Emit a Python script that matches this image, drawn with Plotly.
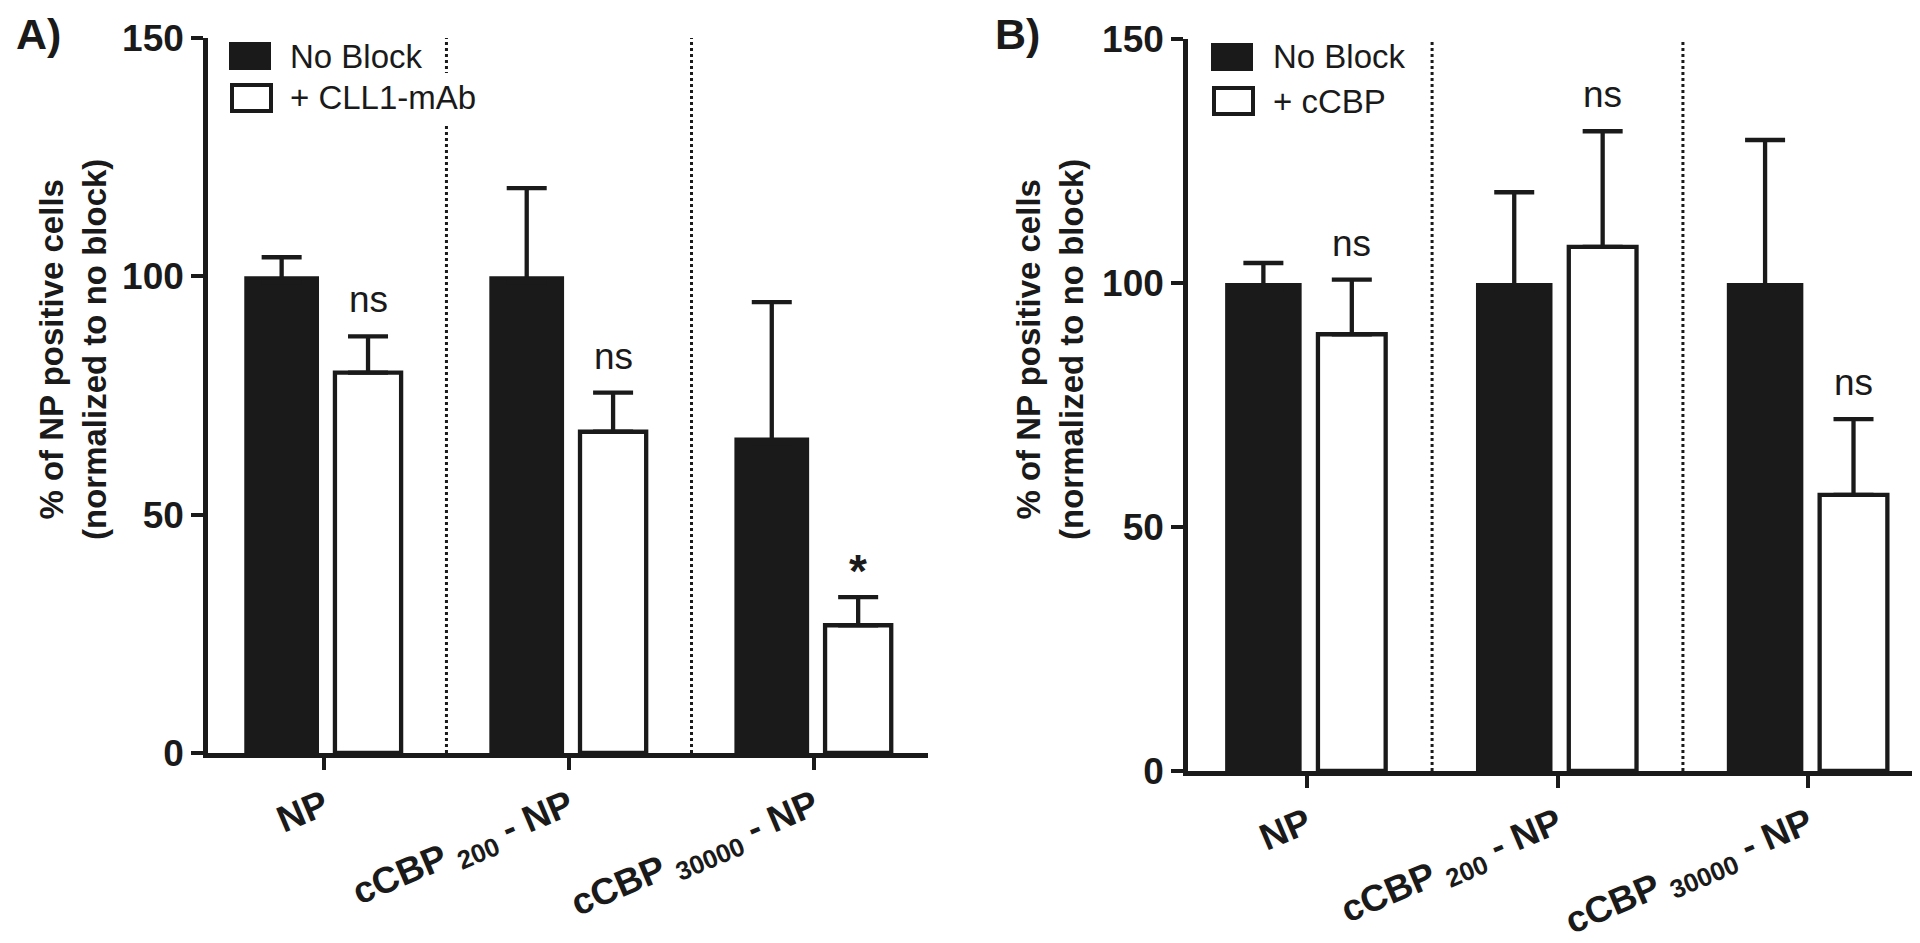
import plotly.graph_objects as go

# ---------------- data ----------------
categories = ["NP", "cCBP200 - NP", "cCBP30000 - NP"]
tick_labels = ["NP", "cCBP <sub>200</sub> - NP", "cCBP <sub>30000</sub> - NP"]

# Panel A
nb_A = [100.0, 100.0, 66.2]
nb_A_err = [4.0, 18.5, 28.4]
mab_A = [79.8, 67.4, 26.8]
mab_A_err = [7.6, 8.2, 5.9]
sig_A = ["ns", "ns", "*"]

# Panel B
nb_B = [100.0, 100.0, 100.0]
nb_B_err = [4.1, 18.6, 29.3]
cbp_B = [89.5, 107.4, 56.6]
cbp_B_err = [11.2, 23.7, 15.5]
sig_B = ["ns", "ns", "ns"]

legend_A = ["No Block", "+ CLL1-mAb"]
legend_B = ["No Block", "+ cCBP"]
y_ticks = [0, 50, 100, 150]
y_title = "% of NP positive cells<br>(normalized to no block)"

# ---------------- style ----------------
PAGE_W, PAGE_H = 1920, 943
OX, OY = 0, 8  # observed offset of the plot div in the page
W, H = PAGE_W - OX, PAGE_H - OY
FONT = "Liberation Sans, Arial, Helvetica, sans-serif"
BLACK = "#1a1a1a"
CAP_SINK = 1.2  # tucks the lower error-bar cap inside the black bar


def px(x):
    return min(max((x - OX) / W, 0), 1)


def py(y):
    return min(max(1 - (y - OY) / H, 0), 1)


xpos = list(range(len(categories)))
XR_A = [-0.473, 2.465]
XR_B = [-0.473, 2.465]

fig = go.Figure()

BW_BLACK, OFF_BLACK = 0.305, -0.325
BW_WHITE, OFF_WHITE = 0.27, 0.045


def add_panel(xa, ya, nb, nb_err, tr, tr_err, names):
    fig.add_trace(go.Bar(
        x=xpos, y=nb, name=names[0], xaxis=xa, yaxis=ya,
        width=BW_BLACK, offset=OFF_BLACK,
        marker=dict(color=BLACK, line=dict(width=0)),
        error_y=dict(type="data", array=nb_err, arrayminus=[CAP_SINK] * len(nb),
                     symmetric=False, color=BLACK, thickness=4.3, width=20),
        showlegend=False,
    ))
    fig.add_trace(go.Bar(
        x=xpos, y=tr, name=names[1], xaxis=xa, yaxis=ya,
        width=BW_WHITE, offset=OFF_WHITE,
        marker=dict(color="white", line=dict(width=4.3, color=BLACK)),
        error_y=dict(type="data", array=tr_err, arrayminus=[0] * len(tr),
                     symmetric=False, color=BLACK, thickness=4.3, width=20),
        showlegend=False,
    ))


add_panel("x", "y", nb_A, nb_A_err, mab_A, mab_A_err, legend_A)
add_panel("x2", "y2", nb_B, nb_B_err, cbp_B, cbp_B_err, legend_B)

xaxis_common = dict(
    tickmode="array", tickvals=xpos, ticktext=tick_labels,
    tickangle=-23, ticks="outside", ticklen=12, tickwidth=4, tickcolor=BLACK,
    showline=True, linewidth=5, linecolor=BLACK, showgrid=False, zeroline=False,
    tickfont=dict(family=FONT, size=37, color=BLACK, weight="bold"),
    fixedrange=True, automargin=False,
)
yaxis_common = dict(
    range=[0, 150], tickmode="array", tickvals=y_ticks,
    ticks="outside", ticklen=12, tickwidth=4, tickcolor=BLACK,
    showline=True, linewidth=4.5, linecolor=BLACK, showgrid=False, zeroline=False,
    tickfont=dict(family=FONT, size=37, color=BLACK, weight="bold"),
    fixedrange=True, automargin=False,
)

fig.update_layout(
    width=W, height=H,
    margin=dict(l=0, r=0, t=0, b=0, pad=0, autoexpand=False),
    paper_bgcolor="white", plot_bgcolor="white",
    barmode="overlay",
    xaxis=dict(domain=[px(200), px(920)], anchor="y", range=XR_A, **xaxis_common),
    yaxis=dict(domain=[py(753), py(38)], anchor="x", **yaxis_common),
    xaxis2=dict(domain=[px(1180), px(1917)], anchor="y2", range=XR_B, **xaxis_common),
    yaxis2=dict(domain=[py(771), py(39)], anchor="x2", **yaxis_common),
    showlegend=False,
)

shapes = []
annotations = []

# dotted separators between groups
for xa, ya in (("x", "y"), ("x2", "y2")):
    for i in range(len(categories) - 1):
        shapes.append(dict(type="line", xref=xa, yref=ya, x0=i + 0.5, x1=i + 0.5,
                           y0=0, y1=150, line=dict(color=BLACK, width=3, dash="dot"),
                           layer="above"))

# legend A background (hides part of the separator)
shapes.append(dict(type="rect", xref="paper", yref="paper",
                   x0=px(213), x1=px(482), y0=py(125), y1=py(73),
                   fillcolor="white", line=dict(width=0), layer="above"))


def legend(x_sq, y1, y2, labels, x_text):
    shapes.append(dict(type="rect", xref="paper", yref="paper",
                       x0=px(x_sq), x1=px(x_sq + 42), y0=py(y1 + 14), y1=py(y1 - 14),
                       fillcolor=BLACK, line=dict(width=0), layer="above"))
    shapes.append(dict(type="rect", xref="paper", yref="paper",
                       x0=px(x_sq + 3), x1=px(x_sq + 42), y0=py(y2 + 13), y1=py(y2 - 13),
                       fillcolor="white", line=dict(width=4, color=BLACK), layer="above"))
    for lab, yy in zip(labels, (y1, y2)):
        annotations.append(dict(text=lab, xref="paper", yref="paper", x=px(x_text), y=py(yy),
                                xanchor="left", yanchor="middle", showarrow=False,
                                font=dict(family=FONT, size=33, color=BLACK)))


legend(221, 56, 98, legend_A, 280)
legend(1203, 57, 101, legend_B, 1263)

# significance labels
center_white = OFF_WHITE + BW_WHITE / 2
for xa, ya, vals, errs, sigs in (("x", "y", mab_A, mab_A_err, sig_A),
                                 ("x2", "y2", cbp_B, cbp_B_err, sig_B)):
    for i, (v, e, s) in enumerate(zip(vals, errs, sigs)):
        star = s == "*"
        annotations.append(dict(
            text=s, xref=xa, yref=ya, x=xpos[i] + center_white, y=v + e,
            xanchor="center", yanchor="bottom", showarrow=False,
            yshift=-2 if star else 14,
            font=dict(family=FONT, size=46 if star else 37, color=BLACK,
                      weight="bold" if star else "normal"),
        ))

# y-axis titles
for xc in (65, 1042):
    annotations.append(dict(text=y_title, xref="paper", yref="paper", x=px(xc), y=py(350),
                            xanchor="center", yanchor="middle", textangle=-90, showarrow=False,
                            font=dict(family=FONT, size=33, color=BLACK, weight="bold")))

# panel labels (box kept inside the page top)
for lab, xl in (("A)", 6), ("B)", 985)):
    annotations.append(dict(text=lab, xref="paper", yref="paper", x=px(xl), y=1,
                            xanchor="left", yanchor="top", showarrow=False,
                            font=dict(family=FONT, size=43, color=BLACK, weight="bold")))

fig.update_layout(shapes=shapes, annotations=annotations)
fig.write_html("out.html")
